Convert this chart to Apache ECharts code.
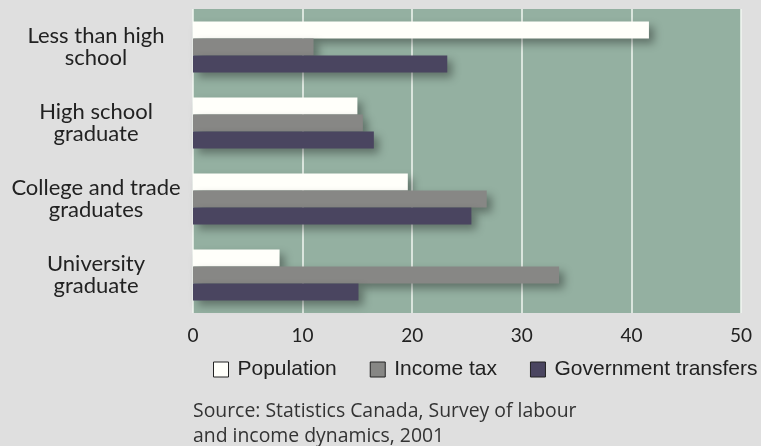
<!DOCTYPE html>
<html><head><meta charset="utf-8">
<script src="https://cdn.jsdelivr.net/npm/echarts@6/dist/echarts.min.js"></script>
<style>html,body{margin:0;padding:0;background:#dfdfdf}#c{width:761px;height:446px}</style>
</head><body><div id="c"></div>
<script>
const categories = ["Less than high\nschool", "High school\ngraduate", "College and trade\ngraduates", "University\ngraduate"];
const population = [41.6, 15.0, 19.6, 7.9];
const incomeTax = [11.0, 15.5, 26.8, 33.4];
const govTransfers = [23.2, 16.5, 25.4, 15.1];
const xTicks = [0, 10, 20, 30, 40, 50];
const seriesNames = ["Population", "Income tax", "Government transfers"];
const colors = ["#fffffa", "#878785", "#4a4560"];

const shadow = {shadowBlur: 8, shadowOffsetX: 5, shadowOffsetY: 5, shadowColor: 'rgba(0,0,0,0.35)'};
const chart = echarts.init(document.getElementById('c'));
const mk = (name, data, color) => ({
  name, type: 'bar', data, barWidth: 17, barGap: '0%',
  itemStyle: Object.assign({color}, shadow),
  emphasis: {disabled: true}
});
chart.setOption({
  backgroundColor: '#dfdfdf',
  animation: false,
  grid: {left: 193, right: 20, top: 9, bottom: 133, show: true, backgroundColor: '#94b0a1', borderWidth: 0},
  xAxis: {
    type: 'value', min: xTicks[0], max: xTicks[xTicks.length - 1], interval: 10,
    axisLine: {show: false}, axisTick: {show: false},
    splitLine: {show: true, lineStyle: {color: '#f2f7f2', width: 1.5}},
    axisLabel: {color: '#222', fontFamily: 'Lato', fontSize: 19, margin: 13}
  },
  yAxis: {
    type: 'category', data: categories, inverse: true,
    axisLine: {show: false}, axisTick: {show: false},
    axisLabel: {color: '#222', fontFamily: 'Lato', fontSize: 22, lineHeight: 22, align: 'center', margin: 97}
  },
  legend: {
    left: 213, top: 359, width: 548, padding: 0, itemWidth: 15, itemHeight: 15, itemGap: 33, icon: 'rect',
    textStyle: {fontFamily: 'Liberation Sans', fontSize: 21, color: '#222', padding: [0, 0, 0, 4]},
    data: seriesNames.map((n, i) => ({name: n, itemStyle: {color: colors[i], borderColor: '#222', borderWidth: 1}}))
  },
  graphic: [
    {type: 'text', left: 193, top: 399, style: {text: 'Source: Statistics Canada, Survey of labour\nand income dynamics, 2001', fontFamily: 'Open Sans', fontSize: 19.4, lineHeight: 25, fill: '#333'}}
  ],
  series: [
    mk(seriesNames[0], population, colors[0]),
    mk(seriesNames[1], incomeTax, colors[1]),
    mk(seriesNames[2], govTransfers, colors[2])
  ]
});
</script></body></html>
